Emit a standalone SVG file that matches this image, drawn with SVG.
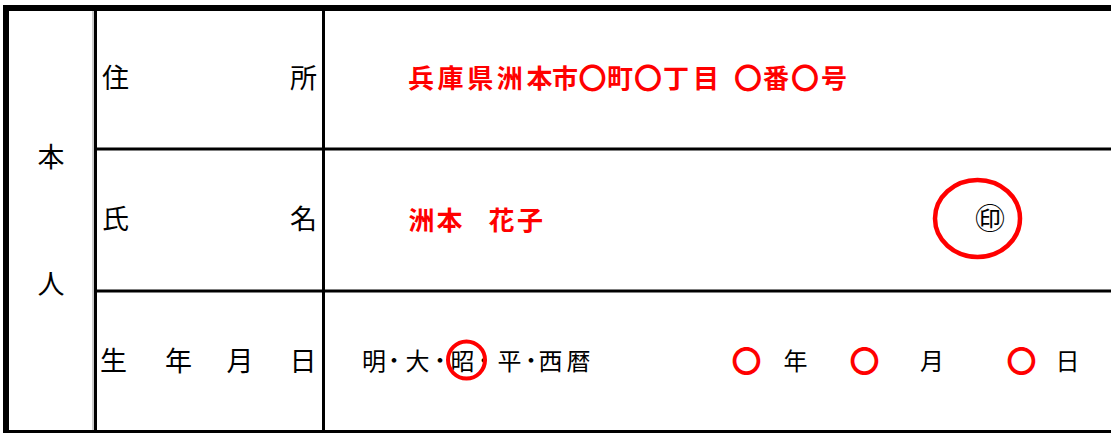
<svg xmlns="http://www.w3.org/2000/svg" width="1111" height="433" viewBox="0 0 1111 433">
<style>
.t{font-family:"Noto Sans CJK JP","Noto Sans CJK SC",sans-serif;text-anchor:middle;fill:#000}
.lab{font-size:27px}
.val{font-size:24px}
.dot{font-size:24px;font-weight:bold}
.red{font-family:"Noto Sans CJK JP","Noto Sans CJK SC",sans-serif;text-anchor:middle;fill:#ff0000;font-weight:bold;font-size:26px}
.maru{font-size:28px}
.maru3{font-size:30px;font-weight:bold}
.ln{stroke:#000;fill:none}
.mark{fill:none;stroke:#ff0000}
</style>
<rect width="1111" height="433" fill="#fff"/>
<g id="grid">
<line class="ln" x1="3" y1="8" x2="1111" y2="8" stroke-width="6"/>
<line class="ln" x1="6" y1="5" x2="6" y2="433" stroke-width="6"/>
<line class="ln" x1="3" y1="431.5" x2="1111" y2="431.5" stroke-width="3"/>
<line x1="93" y1="11" x2="93" y2="430" stroke="#999" stroke-width="1"/>
<line class="ln" x1="95.5" y1="11" x2="95.5" y2="430" stroke-width="3"/>
<line class="ln" x1="323.5" y1="11" x2="323.5" y2="430" stroke-width="3"/>
<line class="ln" x1="95" y1="149" x2="1111" y2="149" stroke-width="3"/>
<line class="ln" x1="95" y1="291" x2="1111" y2="291" stroke-width="3"/>
</g>
<g id="honnin">
<text class="t lab" x="51" y="167">本</text>
<text class="t lab" x="51" y="294">人</text>
</g>
<g id="row-address">
<text class="t lab" x="115.5" y="88">住</text>
<text class="t lab" x="303.5" y="88">所</text>
<text class="red" y="88"><tspan x="421 450.6 480.2 509.8 539.4 565" y="88">兵庫県洲本市</tspan><tspan class="maru" x="592.5" y="89">〇</tspan><tspan x="620" y="88">町</tspan><tspan class="maru" x="648" y="89">〇</tspan><tspan x="676 706" y="88">丁目</tspan><tspan class="maru" x="748" y="89">〇</tspan><tspan x="776" y="88">番</tspan><tspan class="maru" x="805" y="89">〇</tspan><tspan x="834" y="88">号</tspan></text>
</g>
<g id="row-name">
<text class="t lab" x="115.5" y="229">氏</text>
<text class="t lab" x="303.5" y="229">名</text>
<text class="red" x="421.5 449.5 501.5 530" y="229.5">洲本花子</text>
<ellipse class="mark" cx="977.5" cy="218.5" rx="42.5" ry="38.5" stroke-width="4.5"/>
<text class="t" x="990" y="229" font-size="30">㊞</text>
</g>
<g id="row-birth">
<text class="t lab" x="113.5" y="371">生</text>
<text class="t lab" x="178.5" y="371">年</text>
<text class="t lab" x="240" y="371">月</text>
<text class="t lab" x="303" y="371">日</text>
<text class="t val" x="374" y="370">明</text>
<text class="t dot" x="394" y="369">･</text>
<text class="t val" x="417.5" y="370">大</text>
<text class="t dot" x="440" y="369">･</text>
<text class="t val" x="462.5" y="370">昭</text>
<text class="t dot" x="484" y="369">･</text>
<text class="t val" x="509.5" y="370">平</text>
<text class="t dot" x="531" y="369">･</text>
<text class="t val" x="550.5 578.5" y="370">西暦</text>
<circle class="mark" cx="466.5" cy="360" r="18.5" stroke-width="4"/>
<text class="red maru3" x="746.5" y="371.5">〇</text>
<text class="t val" x="795.5" y="370">年</text>
<text class="red maru3" x="864.5" y="371.5">〇</text>
<text class="t val" x="932" y="370">月</text>
<text class="red maru3" x="1021.5" y="371.5">〇</text>
<text class="t val" x="1067.5" y="370">日</text>
</g>
</svg>
